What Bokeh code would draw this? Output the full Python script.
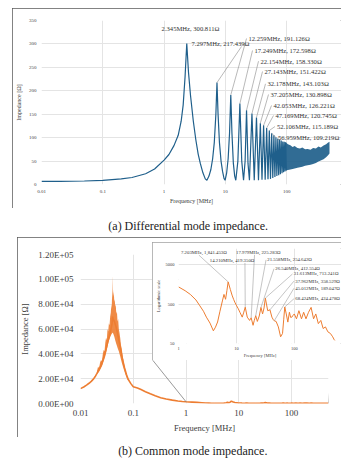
import math
from bokeh.plotting import figure
from bokeh.models import (Range1d, FixedTicker, CustomJSTickFormatter, LabelSet,
                          ColumnDataSource, Arrow, Spacer)
from bokeh.layouts import column, row
from bokeh.embed import file_html
from bokeh.resources import INLINE
from bokeh.core.properties import value

FONT = "Liberation Serif"
DM_COLOR = "#1f5f8b"
CM_COLOR = "#ed7d31"
GRID = "#e4e4e4"
TXT = "#404040"

# ---------------- data: (a) differential mode ----------------
freq_ticks = [0.01, 0.1, 1, 10, 100]
dm_yticks = [0, 50, 100, 150, 200, 250, 300, 350]

dm_f = [0.01, 0.02, 0.05, 0.1, 0.2, 0.3, 0.5, 0.7, 1.0, 1.2, 1.45, 1.7, 1.9, 2.05, 2.2, 2.345,
        2.5, 2.7, 3.0, 3.3, 3.6, 3.9, 4.3, 4.7, 5.0, 5.4, 5.8, 6.2, 6.6, 7.0, 7.297,
        7.6, 8.0, 8.5, 9.0, 9.5, 9.9, 10.5, 11.1, 11.7, 12.259, 12.8, 13.5, 14.2, 14.8,
        16.0, 17.249, 18.5, 19.8, 21.0, 22.154, 23.4, 24.7, 27.143, 29.6, 32.178, 34.7,
        37.205, 39.6, 42.053, 44.6, 47.169, 49.6, 52.106, 54.5, 56.959, 59.4, 61.9, 64.3,
        66.8, 69.2, 71.7, 74.1, 76.6, 79.0, 81.5, 84.0, 86.4, 88.9, 91.3, 93.7, 96.2, 98.6]
dm_z = [6.5, 6.8, 7.5, 9, 12, 15, 23, 33, 52, 64, 83, 105, 135, 170, 230, 300.811,
        240, 190, 135, 95, 65, 45, 25, 12, 9, 18, 32, 55, 90, 150, 217.439,
        150, 90, 50, 28, 13, 9, 25, 55, 110, 191.126, 110, 45, 18, 9,
        50, 172.598, 50, 9, 50, 158.330, 45, 9, 151.422, 9, 143.103, 9,
        130.898, 10, 126.221, 10, 120.745, 11, 115.189, 12, 109.219, 14, 105, 16,
        101, 18, 98, 20, 96, 22, 94, 24, 92, 26, 91, 28, 90, 30]

dm_band_f = [96, 105, 115, 125, 135, 150, 165, 180, 200, 220, 245, 270, 300, 330, 360, 400, 440, 470, 500]
dm_band_hi = [90, 86, 84, 80, 82, 78, 77, 79, 75, 76, 74, 78, 77, 81, 79, 83, 86, 89, 91]
dm_band_lo = [30, 31, 32, 33, 34, 36, 37, 38, 40, 41, 42, 44, 46, 49, 51, 54, 58, 62, 66]

dm_peak_f = [2.345, 7.297, 12.259, 17.249, 22.154, 27.143, 32.178, 37.205, 42.053, 47.169, 52.106, 56.959]
dm_peak_z = [300.811, 217.439, 191.126, 172.598, 158.330, 151.422, 143.103, 130.898, 126.221, 120.745, 115.189, 109.219]

# ---------------- data: (b) common mode ----------------
cm_yticks = [0, 20000, 40000, 60000, 80000, 100000, 120000]

cm_lo_f = [0.01, 0.0115, 0.013, 0.0145, 0.016, 0.0175, 0.019, 0.0205, 0.0225, 0.025, 0.028, 0.031,
           0.034, 0.037, 0.0395, 0.0405, 0.0415, 0.044, 0.047, 0.05, 0.054, 0.058, 0.063, 0.068,
           0.074, 0.08, 0.09, 0.1, 0.12, 0.14, 0.17, 0.21, 0.26, 0.33, 0.42, 0.55, 0.7, 0.85]
cm_lo_z = [12000, 13300, 14800, 16300, 17800, 19600, 21700, 24200, 27500, 31500, 38000, 45000,
           52000, 58000, 64000, 70000, 68000, 66000, 62000, 57000, 50000, 43000, 35000, 29000,
           23500, 19500, 16000, 13500, 12500, 11200, 9500, 7800, 6200, 4700, 3600, 2700, 2050, 1650]

cm_band_f = [0.0205, 0.0215, 0.0225, 0.0235, 0.0245, 0.0255, 0.0265, 0.0275, 0.0285, 0.0295,
             0.0305, 0.0315, 0.0325, 0.0335, 0.0345, 0.0355, 0.0365, 0.0375, 0.0383, 0.039,
             0.0397, 0.0403, 0.0408, 0.0413, 0.042, 0.0428, 0.0436, 0.0445, 0.0455, 0.0465,
             0.0477, 0.049, 0.0503, 0.0517, 0.0532, 0.0548, 0.0565, 0.0585, 0.0605, 0.063,
             0.066, 0.069, 0.073, 0.077, 0.08]
cm_band_hi = [26000, 29500, 28500, 33000, 35000, 34000, 40000, 43000, 42000, 49000,
              53000, 51000, 60000, 58000, 64500, 63000, 70000, 73000, 80000, 76000,
              88000, 103000, 84000, 92000, 86000, 90000, 82000, 84000, 78000, 80000,
              72000, 74000, 66000, 68000, 60000, 57000, 53000, 47000, 44000, 38000,
              33000, 29000, 24500, 21000, 19000]
cm_band_lo = [23500, 24500, 25500, 27000, 28500, 30000, 32000, 34000, 36000, 38000,
              40500, 43000, 46000, 48500, 50500, 52000, 53500, 54500, 55500, 56000,
              56500, 57000, 57000, 56500, 56000, 55000, 54000, 52500, 51000, 49500,
              48000, 46500, 45000, 43500, 42000, 40000, 38000, 35500, 33000, 30500,
              27500, 25000, 22000, 19500, 18500]

inset_f = [1.0, 1.3, 1.6, 2.0, 2.34, 2.7, 3.03, 3.5, 4.0, 4.35, 4.73, 5.2, 5.73, 6.1, 6.5, 6.85,
           7.203, 7.86, 8.4, 8.94, 9.5, 10.1, 10.8, 11.5, 12.6, 13.3, 14.21, 15.4, 16.9, 17.979,
           19.4, 20.3, 21.558, 23.0, 24.8, 26.54, 28.3, 30.0, 31.613, 34.7, 37.962, 41.0, 43.5,
           45.012, 48.5, 53.0, 58.0, 62.6, 65.5, 68.424, 72.6, 77.3, 82.3, 86.5, 90.7, 95.0, 100,
           109, 120, 133, 145, 159, 176, 195, 215, 235, 260, 287, 315, 345, 380, 420, 460, 490, 500]
inset_z = [1375, 1100, 885, 640, 453, 330, 234, 165, 105, 130, 176, 330, 604, 885, 665, 1100,
           1841.453, 1178, 850, 665, 540, 453, 380, 311, 234, 300, 419.35, 234, 193, 225.283,
           145, 190, 254.642, 182, 250, 412.554, 282, 400, 713.241, 341, 358.529, 234, 200,
           189.047, 182, 132, 74, 90, 200, 424.478, 282, 175, 311, 230, 234, 260, 282,
           212, 341, 212, 311, 212, 311, 414, 212, 282, 160, 193, 120, 132, 99, 90, 74, 62, 60]
inset_yticks = [50, 500, 5000]
inset_xticks = [1, 10, 100]

cm_peak_f = [7.203, 14.210, 17.979, 21.558, 26.540, 31.613, 37.962, 45.012, 68.424]
cm_peak_z = [1841.453, 419.350, 225.283, 254.642, 412.554, 713.241, 358.529, 189.047, 424.478]

caption_a = "(a) Differential mode impedance."
caption_b = "(b) Common mode impedance."

# ---------------- helpers ----------------
num_fmt = CustomJSTickFormatter(code="return tick.toString();")
exp_fmt = CustomJSTickFormatter(code=r"""
var s = tick.toExponential(2).toUpperCase();
return s.replace(/E([+-])(\d)$/, function(m, a, b){ return 'E' + a + '0' + b; });
""")


def style_axes(p, tick_size, label_size):
    for ax in p.axis:
        ax.axis_line_color = None
        ax.major_tick_line_color = None
        ax.minor_tick_line_color = None
        ax.major_tick_out = 0
        ax.major_tick_in = 0
        ax.minor_tick_out = 0
        ax.minor_tick_in = 0
        ax.major_label_text_font = FONT
        ax.major_label_text_font_size = tick_size
        ax.major_label_text_color = TXT
        ax.axis_label_text_font = FONT
        ax.axis_label_text_font_size = label_size
        ax.axis_label_text_font_style = "normal"
        ax.axis_label_text_color = TXT
    for g in p.grid:
        g.grid_line_color = GRID
        g.grid_line_width = 1


def px_log(px, lo, hi, p0, p1):
    return lo * 10 ** ((px - p0) / (p1 - p0) * math.log10(hi / lo))


# ---------------- (a) figure ----------------
# page geometry: figure at x 12, y 8 ; data area x 41..329 (0.01..500 MHz), y 20..184
# the frame runs on to the figure's right edge (341) so the peak labels are not cut there
a_xend = px_log(341, 0.01, 500, 41, 329)
pa = figure(width=329, height=200, x_axis_type="log", x_range=Range1d(0.01, a_xend),
            y_range=Range1d(0, 350), output_backend="svg", toolbar_location=None,
            min_border_left=29, min_border_right=0, min_border_top=12, min_border_bottom=24)
pa.outline_line_color = None
pa.xaxis.ticker = FixedTicker(ticks=freq_ticks)
pa.xaxis.formatter = num_fmt
pa.yaxis.ticker = FixedTicker(ticks=dm_yticks)
pa.xgrid.ticker = FixedTicker(ticks=freq_ticks)
pa.ygrid.ticker = FixedTicker(ticks=dm_yticks)
pa.xaxis.axis_label = "Frequency [MHz]"
pa.yaxis.axis_label = "Impedance [Ω]"
style_axes(pa, "5px", "6px")
pa.xaxis.major_label_standoff = 5
pa.xaxis.axis_label_standoff = 2
pa.yaxis.major_label_standoff = 5
pa.yaxis.axis_label_standoff = 4
pa.ygrid.bounds = (0, 350)

pa.varea(x=dm_band_f, y1=dm_band_lo, y2=dm_band_hi, fill_color=DM_COLOR, fill_alpha=0.92)
pa.line(dm_f, dm_z, line_color=DM_COLOR, line_width=1.2)


def a_x(px):
    return px_log(px, 0.01, 500, 41, 329)


def a_y(py):
    return (184 - py) / 164 * 350


a_lab_px = [(190, 28), (191, 43), (248, 38), (254, 50), (260, 60.7), (264, 71), (267, 83.3),
            (270, 94), (273, 105), (275, 115), (276.5, 126), (277.5, 137)]
a_lab = dict(x=[a_x(p[0]) for p in a_lab_px], y=[a_y(p[1]) for p in a_lab_px],
             text=[f"{f:.3f}MHz, {z:.3f}Ω" for f, z in zip(dm_peak_f, dm_peak_z)],
             align=["center"] + ["left"] * 11)
pa.add_layout(LabelSet(x="x", y="y", text="text", source=ColumnDataSource(a_lab),
                       text_font=value(FONT), text_font_size="6.6px", text_color="#333333",
                       text_baseline="middle", text_align="align"))
lead_a_px = [(241, 46)] + [(p[0] - 2, p[1]) for p in a_lab_px[2:]]
pa.segment(x0=[a_x(p[0]) for p in lead_a_px], y0=[a_y(p[1]) for p in lead_a_px],
           x1=dm_peak_f[1:], y1=dm_peak_z[1:], line_color="#8a8a8a", line_width=0.6)
pa.styles = {"outline": "1.3px solid #5a5a5a", "outline-offset": "-1.3px"}

# ---------------- (b) figure ----------------
# page geometry: figure at x 17, y 237 ; frame x 79..328, y 254..403
pb = figure(width=324, height=200, x_axis_type="log", x_range=Range1d(0.01, 500),
            y_range=Range1d(0, 120000), output_backend="svg", toolbar_location=None,
            min_border_left=62, min_border_right=13, min_border_top=17, min_border_bottom=34)
pb.outline_line_color = None
pb.xaxis.ticker = FixedTicker(ticks=freq_ticks)
pb.xaxis.formatter = num_fmt
pb.yaxis.ticker = FixedTicker(ticks=cm_yticks)
pb.yaxis.formatter = exp_fmt
pb.xgrid.ticker = FixedTicker(ticks=freq_ticks)
pb.ygrid.ticker = FixedTicker(ticks=cm_yticks)
pb.xaxis.axis_label = "Frequency [MHz]"
pb.yaxis.axis_label = "Impedance [Ω]"
style_axes(pb, "9px", "8.5px")
pb.xaxis.major_label_standoff = 6
pb.xaxis.axis_label_standoff = 4
pb.yaxis.major_label_standoff = 7
pb.yaxis.axis_label_standoff = 5

pb.varea(x=cm_band_f, y1=cm_band_lo, y2=cm_band_hi, fill_color=CM_COLOR, fill_alpha=0.9)
pb.line(cm_lo_f + inset_f, cm_lo_z + inset_z, line_color=CM_COLOR, line_width=1.6)


def b_x(px):
    return px_log(px, 0.01, 500, 79.3, 327.7)


def b_y(py):
    return (403.3 - py) / 149.3 * 120000


pb.add_layout(Arrow(end=None, x_start=b_x(151.7), y_start=b_y(360), x_end=inset_f[0], y_end=inset_z[0],
                    line_color="#7f7f7f", line_width=0.8))
pb.add_layout(Arrow(end=None, x_start=b_x(331.7), y_start=b_y(360), x_end=inset_f[-1], y_end=inset_z[-1],
                    line_color="#7f7f7f", line_width=0.8))
pb.styles = {"outline": "1.3px solid #5a5a5a", "outline-offset": "-1.3px"}

# ---------------- inset ----------------
# page geometry: figure at x 151.7, y 241.7 ; data area x 170.7..333.7 (1..500 MHz), y 247.7..344.7
i_xend = px_log(340.7, 1, 500, 170.7, 333.7)
pi = figure(width=189, height=118, x_axis_type="log", y_axis_type="log",
            x_range=Range1d(1, i_xend), y_range=Range1d(50, 13000), output_backend="svg",
            toolbar_location=None, min_border_left=19, min_border_right=0,
            min_border_top=6, min_border_bottom=15)
pi.outline_line_color = None
pi.xaxis.ticker = FixedTicker(ticks=inset_xticks)
pi.xaxis.formatter = num_fmt
pi.yaxis.ticker = FixedTicker(ticks=inset_yticks)
pi.yaxis.formatter = num_fmt
pi.xgrid.ticker = FixedTicker(ticks=inset_xticks)
pi.ygrid.ticker = FixedTicker(ticks=inset_yticks)
pi.ygrid.bounds = (50, 13000)
pi.xaxis.axis_label = "Frequency [MHz]"
pi.yaxis.axis_label = "Logarithmic scale"
style_axes(pi, "4.5px", "4.5px")
pi.xaxis.major_label_standoff = 3
pi.xaxis.axis_label_standoff = 0
pi.yaxis.major_label_standoff = 4
pi.yaxis.axis_label_standoff = 2
pi.line(inset_f, inset_z, line_color=CM_COLOR, line_width=1.0)


def i_x(px):
    return px_log(px, 1, 500, 170.7, 333.7)


def i_y(py):
    return px_log(-py, 50, 13000, -344.7, -247.7)


i_lab_px = [(173.3, 251.7), (203.3, 260), (230.7, 251.7), (263.3, 259.3), (271.7, 268.3),
            (291.0, 273.7), (292.5, 281), (292.5, 288.3), (292.5, 299)]
i_lab = dict(x=[i_x(p[0]) for p in i_lab_px], y=[i_y(p[1]) for p in i_lab_px],
             text=[f"{f:.3f}MHz, {z:,.3f}Ω" for f, z in zip(cm_peak_f, cm_peak_z)])
pi.add_layout(LabelSet(x="x", y="y", text="text", source=ColumnDataSource(i_lab),
                       text_font=value(FONT), text_font_size="4.8px", text_color="#333333",
                       text_baseline="middle", text_align="left"))
lead_i_px = [(192, 254.5), (240, 262.5), (250, 254.2), (262, 259.3), (270.3, 268.3),
             (289.6, 273.7), (291.1, 281), (291.1, 288.3), (291.1, 299)]
pi.segment(x0=[i_x(p[0]) for p in lead_i_px], y0=[i_y(p[1]) for p in lead_i_px],
           x1=cm_peak_f, y1=cm_peak_z, line_color="#8a8a8a", line_width=0.5)
pi.styles = {"position": "absolute", "left": "151.7px", "top": "241.7px",
             "outline": "1px solid #a0a0a0", "outline-offset": "-1px", "z-index": "5"}


# ---------------- captions ----------------
def caption(text, w, h, xc, yc):
    c = figure(width=w, height=h, x_range=Range1d(0, w), y_range=Range1d(0, h),
               output_backend="svg", toolbar_location=None, min_border=0)
    c.axis.visible = False
    c.grid.visible = False
    c.outline_line_color = None
    c.text(x=[xc], y=[h - yc], text=[text], text_font=value(FONT), text_font_size="12px",
           text_align="center", text_baseline="middle", text_color="#222222")
    return c


cap_a = caption(caption_a, 341, 29, 175, 17)
cap_b = caption(caption_b, 341, 22, 180, 13)

root = column(Spacer(width=341, height=8),
              row(Spacer(width=12, height=200), pa), cap_a,
              row(Spacer(width=17, height=200), pb), cap_b, pi)
root.styles = {"position": "relative"}

open("out.html", "w").write(file_html(root, INLINE))
